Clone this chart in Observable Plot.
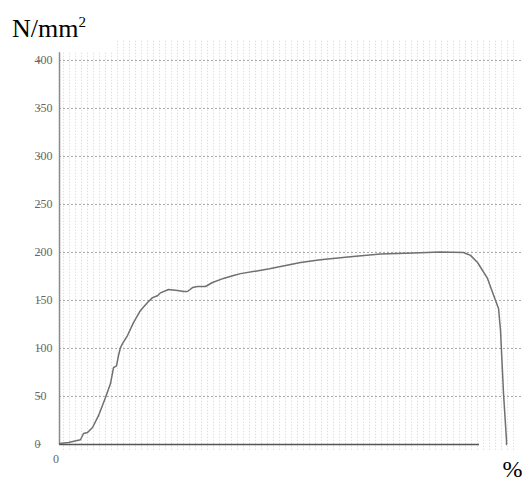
<!DOCTYPE html>
<html>
<head>
<meta charset="utf-8">
<script src="https://cdn.jsdelivr.net/npm/d3@7"></script>
<script src="https://cdn.jsdelivr.net/npm/@observablehq/plot@0.6"></script>
<style>
  html, body { margin: 0; padding: 0; background: white; }
  #wrap { width: 523px; height: 483px; position: relative; }
  #title { position: relative; height: 40px; }
  #title span.main { position: absolute; left: 12px; top: 14px; font-family: "Liberation Serif", serif; font-size: 26px; color: #000; white-space: nowrap; }
  #title span.sup { font-size: 15px; position: relative; top: -10px; }
  svg { display: block; }
</style>
</head>
<body>
<div id="wrap">
  <div id="title"><span class="main">N/mm<span class="sup">2</span></span></div>
  <div id="chart"></div>
</div>
<script>
// Strain (%) and stress (N/mm²)
const strain = [0, 1.5, 3.5, 4, 4.67, 5.5, 6.5, 7.67, 8.5, 9, 9.5, 9.83, 10.17, 10.5, 11.33, 12.33, 13.5, 14.67, 15.5, 16.33, 16.83, 18.17, 19.67, 20.67, 21.33, 22.17, 23, 24.33, 25.5, 27.33, 29, 30.17, 35, 40.17, 43.5, 48.5, 53.5, 59, 63.5, 67.33, 68.5, 69.67, 71.33, 72.67, 73.17, 73.5, 74, 74.5, 74.5];
const stress = [1, 2, 5, 11.5, 12.5, 17.7, 30, 49, 63.5, 80, 82, 92.7, 101, 105, 113.5, 127, 139.6, 148, 153, 155, 158, 161.5, 160.4, 159.4, 159.4, 163.5, 164.6, 164.6, 168.75, 173, 176, 178, 183, 189.6, 192.5, 195.5, 198.5, 199.5, 200.5, 200, 197, 189.6, 173, 150, 141.7, 118.75, 53, 4, 0];
const yTicks = [0, 50, 100, 150, 200, 250, 300, 350, 400];
const xTickLabels = [0];
const xLimit = 77.33;
const yLimit = 420.83;
const axisTopY = 408;
const baselineEnd = 70;
const gridX = d3.range(0.67, 76, 1);

const data = strain.map((s, i) => ({strain: s, stress: stress[i]}));

const chart = Plot.plot({
  width: 523,
  height: 443,
  marginLeft: 59,
  marginRight: 0,
  marginTop: 0,
  marginBottom: 39,
  x: {domain: [0, xLimit], axis: null, label: null},
  y: {domain: [0, yLimit], axis: null, label: null},
  style: {fontFamily: "Liberation Serif, serif", background: "white", overflow: "visible"},
  marks: [
    Plot.ruleX(gridX.filter(x => x < 9.5), {y1: -6, y2: axisTopY, stroke: "#d2d2d2", strokeWidth: 1, strokeDasharray: "1,2"}),
    Plot.ruleX(gridX.filter(x => x >= 9.5), {y1: -6, y2: yLimit, stroke: "#d2d2d2", strokeWidth: 1, strokeDasharray: "1,2"}),
    Plot.ruleY(yTicks.filter(v => v > 0), {x1: 0, x2: xLimit, stroke: "#a8a8a8", strokeWidth: 1, strokeDasharray: "2,2"}),
    Plot.ruleX([0], {y1: 0, y2: axisTopY, stroke: "#8a8a8a", strokeWidth: 1.5}),
    Plot.ruleY([0], {x1: 0, x2: baselineEnd, stroke: "#555", strokeWidth: 1.5}),
    Plot.axisY(yTicks, {anchor: "left", tickSize: 4, tickPadding: 3, textAnchor: "start", dx: -18, stroke: "#999", fill: "#666", fontSize: 12, label: null}),
    Plot.axisX(xTickLabels, {anchor: "bottom", tickSize: 0, tickPadding: 10, dx: -3.5, fill: "#666", fontSize: 12, label: null}),
    Plot.line(data, {x: "strain", y: "stress", stroke: "#707070", strokeWidth: 1.5}),
    Plot.text(["%"], {frameAnchor: "bottom-right", dx: -1, dy: 32, lineAnchor: "bottom", textAnchor: "end", fontSize: 24, fill: "#000"})
  ]
});
document.getElementById("chart").appendChild(chart);
</script>
</body>
</html>
